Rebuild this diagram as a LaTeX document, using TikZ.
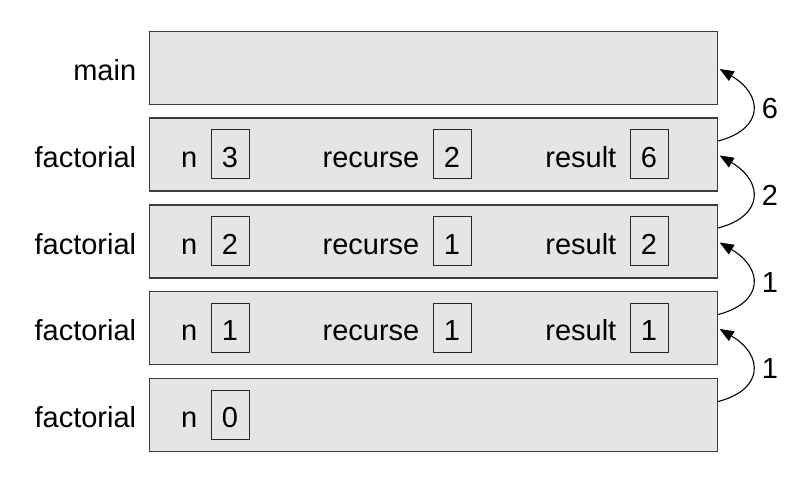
\documentclass[tikz,border=0pt]{standalone}
\usepackage{fontspec}
\setmainfont{Liberation Sans}
\usetikzlibrary{arrows.meta,calc}
\definecolor{framefill}{HTML}{E5E5E5}
\definecolor{frameline}{HTML}{3C3C3C}
\begin{document}
\begin{tikzpicture}[x=1pt,y=-1pt,
  font=\fontsize{29}{34}\selectfont,
  frame/.style={draw=frameline, fill=framefill, line width=1.3pt,
    minimum width=568pt, minimum height=73pt, inner sep=0pt},
  valbox/.style={draw=black!85, line width=1pt, minimum width=38pt,
    minimum height=49pt, inner sep=0pt, text height=26pt, text depth=0pt},
  lbl/.style={anchor=base east, inner sep=0pt},
  call/.style={-{Triangle[length=14pt,width=11pt]}, line width=1.1pt},
  num/.style={anchor=base, inner sep=0pt}]
\useasboundingbox (0,0) rectangle (812,478);

% frames
\node[frame] (f1) at (433.5,68) {};
\node[frame] (f2) at (433.5,154.5) {};
\node[frame] (f3) at (433.5,241.5) {};
\node[frame] (f4) at (433.5,328) {};
\node[frame] (f5) at (433.5,415) {};

% frame labels
\node[lbl] (fl1) at ($(f1.west)+(-12.5,13)$) {main};
\node[lbl] (fl2) at ($(f2.west)+(-12.5,13)$) {factorial};
\node[lbl] (fl3) at ($(f3.west)+(-12.5,13)$) {factorial};
\node[lbl] (fl4) at ($(f4.west)+(-12.5,13)$) {factorial};
\node[lbl] (fl5) at ($(f5.west)+(-12.5,13)$) {factorial};

% frame 2
\node[valbox] (n2) at (230,154.5) {3};
\node[lbl] (nl2) at ($(n2.west)+(-13,13)$) {n};
\node[valbox] (r2) at (452,154.5) {2};
\node[lbl] (rl2) at ($(r2.west)+(-13,13)$) {recurse};
\node[valbox] (s2) at (649,154.5) {6};
\node[lbl] (sl2) at ($(s2.west)+(-13,13)$) {result};

% frame 3
\node[valbox] (n3) at (230,241.5) {2};
\node[lbl] (nl3) at ($(n3.west)+(-13,13)$) {n};
\node[valbox] (r3) at (452,241.5) {1};
\node[lbl] (rl3) at ($(r3.west)+(-13,13)$) {recurse};
\node[valbox] (s3) at (649,241.5) {2};
\node[lbl] (sl3) at ($(s3.west)+(-13,13)$) {result};

% frame 4
\node[valbox] (n4) at (230,328) {1};
\node[lbl] (nl4) at ($(n4.west)+(-13,13)$) {n};
\node[valbox] (r4) at (452,328) {1};
\node[lbl] (rl4) at ($(r4.west)+(-13,13)$) {recurse};
\node[valbox] (s4) at (649,328) {1};
\node[lbl] (sl4) at ($(s4.west)+(-13,13)$) {result};

% frame 5
\node[valbox] (n5) at (230,415) {0};
\node[lbl] (nl5) at ($(n5.west)+(-13,13)$) {n};

% return arrows
\draw[call] ($(f2.east)+(0,-13.5)$) .. controls +(46,-12) and +(44,26) .. ($(f1.east)+(1.5,1)$);
\draw[call] ($(f3.east)+(0,-13.5)$) .. controls +(46,-12) and +(44,26) .. ($(f2.east)+(1.5,1)$);
\draw[call] ($(f4.east)+(0,-13.5)$) .. controls +(46,-12) and +(44,26) .. ($(f3.east)+(1.5,1)$);
\draw[call] ($(f5.east)+(0,-13.5)$) .. controls +(46,-12) and +(44,26) .. ($(f4.east)+(1.5,1)$);

% return values
\node[num] (v1) at (770,119) {6};
\node[num] (v2) at (770,206) {2};
\node[num] (v3) at (770,292.5) {1};
\node[num] (v4) at (770,379) {1};
\end{tikzpicture}
\end{document}
